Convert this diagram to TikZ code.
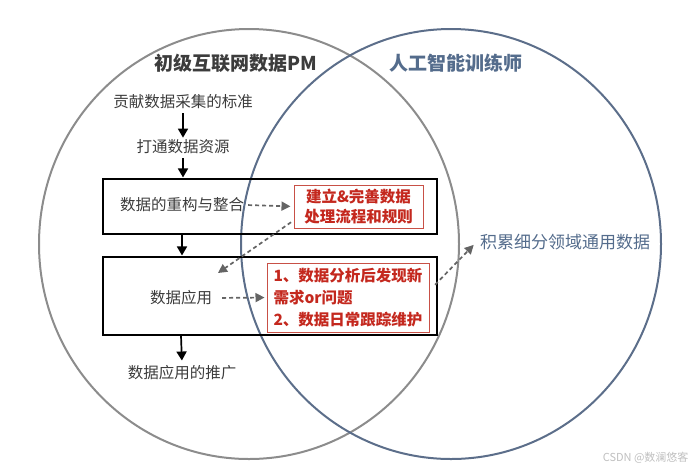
\documentclass[tikz,border=0pt]{standalone}
\usepackage{fontspec}
\setmainfont{Noto Sans CJK SC}
\usetikzlibrary{arrows.meta}

\begin{document}
\begin{tikzpicture}[x=1pt, y=-1pt,
  txt/.style={text=txtgray, font=\fontsize{15.5}{18}\selectfont, inner sep=2pt},
  frame/.style={draw=black, line width=1.1pt, inner sep=0pt},
  redbox/.style={draw=redline, line width=1pt, fill=white, text=redtext, inner sep=3pt,
    font=\bfseries\fontsize{15.5}{20.5}\selectfont},
  flow/.style={line width=1.7pt, -{Triangle[length=9pt, width=10pt]}},
  hint/.style={line width=1.7pt, draw=hintgray, dash pattern=on 4pt off 3pt,
    -{Triangle[length=9pt, width=9pt]}}]
  % 定义颜色
  \definecolor{txtgray}{RGB}{60,60,60}
  \definecolor{ringgray}{RGB}{140,140,140}
  \definecolor{ringblue}{RGB}{92,110,138}
  \definecolor{titleblue}{RGB}{84,108,140}
  \definecolor{redline}{RGB}{200,80,70}
  \definecolor{redtext}{RGB}{196,40,30}
  \definecolor{hintgray}{RGB}{100,100,100}

  \useasboundingbox (0,0) rectangle (700,472);

  % 两个圆
  \draw[ringgray, line width=2pt] (249,244) ellipse [x radius=210, y radius=215];
  \draw[ringblue, line width=2pt] (451,244) ellipse [x radius=210, y radius=215];

  % 标题
  \node[text=txtgray, font=\bfseries\fontsize{19}{22}\selectfont] (pm) at (236,63) {初级互联网数据PM};
  \node[text=titleblue, font=\bfseries\fontsize{19}{22}\selectfont] (ai) at (456,63) {人工智能训练师};

  % 左侧流程
  \node[txt] (t1) at (183,102) {贡献数据采集的标准};
  \node[txt] (t2) at (183,147) {打通数据资源};
  \node[frame, minimum width=334, minimum height=55] (b1) at (270,206.5) {};
  \node[txt] (s1) at (182,205) {数据的重构与整合};
  \node[frame, minimum width=334, minimum height=78] (b2) at (270,296) {};
  \node[txt] (s2) at (181,298) {数据应用};
  \node[txt] (t3) at (182,373) {数据应用的推广};

  % 红框
  \node[redbox, minimum width=129, minimum height=43, align=center] (r1) at (358.5,206.5)
    {建立\&完善数据\\处理流程和规则};
  \node[redbox, minimum width=162, minimum height=69, align=left,
    font=\bfseries\fontsize{15.5}{22}\selectfont] (r2) at (348,297.5)
    {1、数据分析后发现新\\需求or问题\\2、数据日常跟踪维护};

  % 右侧
  \node[text=titleblue, font=\fontsize{17}{20}\selectfont] (goal) at (565,242) {积累细分领域通用数据};
  \node[anchor=east, text=gray!50, font=\fontsize{11}{13}\selectfont] (wm) at (692,458) {CSDN @数澜悠客};

  \coordinate (p1) at (218,273);

  % 实线箭头
  \draw[flow, shorten <=2pt] (t1) -- (t2);
  \draw[flow, shorten <=2pt, shorten >=1pt] (t2.south) -- (t2.south |- b1.north);
  \draw[flow, shorten >=1pt] (s1 |- b1.south) -- (s1 |- b2.north);
  \draw[flow, shorten >=3pt] (s2 |- b2.south) -- (t3.north);

  % 虚线箭头
  \draw[hint, shorten <=2pt, shorten >=3pt] (s1.east) -- (r1.west);
  \draw[hint, shorten <=8pt, shorten >=2pt] (s2.east) -- (r2.west);
  \draw[hint, shorten <=3pt] ([yshift=-14pt]r1.west) -- (p1);
  \draw[hint, shorten <=8pt, shorten >=4pt] ([yshift=7pt]r2.east) -- (goal.west);
\end{tikzpicture}
\end{document}
